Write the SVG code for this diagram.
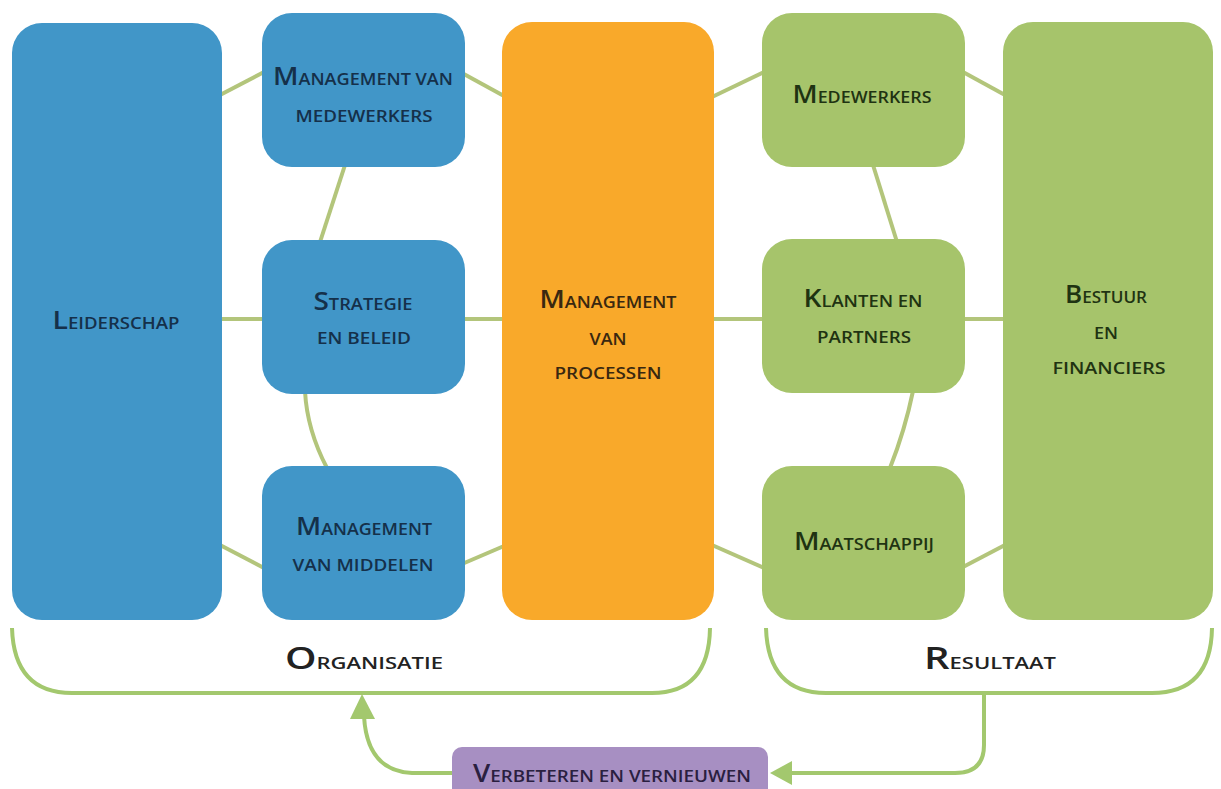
<svg xmlns="http://www.w3.org/2000/svg" width="1221" height="789" viewBox="0 0 1221 789">
<defs>
<style>
.t{font-family:"Open Sans","Liberation Sans",sans-serif;font-weight:600;font-size:17px;text-anchor:middle}
.c{font-size:26px}
.blue{fill:#4196c8}.orange{fill:#f9a92a}.green{fill:#a6c46b}.purple{fill:#a78fc2}
.tb{fill:#15304a}.to{fill:#3a2810}.tg{fill:#1f3312}.tp{fill:#2a2040}.tk{fill:#222}
.con{stroke:#b3c57b;stroke-width:4;fill:none}
.br{stroke:#a3c86e;stroke-width:4;fill:none}
</style>
<marker id="ah" viewBox="0 0 10 10" refX="9" refY="5" markerWidth="6" markerHeight="6" orient="auto" markerUnits="strokeWidth">
<path d="M0,0 L10,5 L0,10 z" fill="#a3c86e"/>
</marker>
</defs>
<rect width="1221" height="789" fill="#ffffff"/>
<g id="connectors">
<line class="con" x1="220" y1="95" x2="264" y2="72"/>
<line class="con" x1="220" y1="319" x2="264" y2="319"/>
<line class="con" x1="220" y1="545" x2="264" y2="568"/>
<line class="con" x1="462" y1="73" x2="504" y2="96"/>
<line class="con" x1="462" y1="319" x2="504" y2="319"/>
<line class="con" x1="462" y1="564" x2="504" y2="546"/>
<line class="con" x1="345" y1="165" x2="320" y2="242"/>
<path class="con" d="M305,391 Q307,430 327,468"/>
<line class="con" x1="712" y1="97" x2="764" y2="72"/>
<line class="con" x1="712" y1="319" x2="764" y2="319"/>
<line class="con" x1="712" y1="545" x2="764" y2="568"/>
<line class="con" x1="963" y1="72" x2="1005" y2="95"/>
<line class="con" x1="963" y1="319" x2="1005" y2="319"/>
<line class="con" x1="963" y1="567" x2="1005" y2="545"/>
<line class="con" x1="873" y1="165" x2="897" y2="242"/>
<path class="con" d="M913,391 Q905,430 890,468"/>
<path class="br" d="M12,628 Q14,693 72,693 L652,693 Q709,693 710,628"/>
<path class="br" d="M766,628 Q768,693 826,693 L1152,693 Q1211,693 1212,628"/>
<path class="br" d="M984,693 L984,745 Q984,773 955,773 L790,773"/>
<path d="M770,773 L792,761 L792,785 z" fill="#a3c86e"/>
<path class="br" d="M452,773 L412,773 Q367,771 364,716"/>
<path d="M362,694 L350,719 L375,719 z" fill="#a3c86e"/>
</g>
<g id="leiderschap">
<rect class="blue" x="12" y="23" width="210" height="597" rx="30"/>
<text class="t tb" x="116" y="329" textLength="127" lengthAdjust="spacingAndGlyphs"><tspan class="c">L</tspan>EIDERSCHAP</text>
</g>
<g id="mgmt-medewerkers">
<rect class="blue" x="262" y="13" width="203" height="154" rx="30"/>
<text class="t tb" x="363" y="85" textLength="180" lengthAdjust="spacingAndGlyphs"><tspan class="c">M</tspan>ANAGEMENT VAN</text>
<text class="t tb" x="364" y="122" textLength="137" lengthAdjust="spacingAndGlyphs">MEDEWERKERS</text>
</g>
<g id="strategie">
<rect class="blue" x="262" y="240" width="203" height="154" rx="30"/>
<text class="t tb" x="363" y="310" textLength="99" lengthAdjust="spacingAndGlyphs"><tspan class="c">S</tspan>TRATEGIE</text>
<text class="t tb" x="364" y="344" textLength="94" lengthAdjust="spacingAndGlyphs">EN BELEID</text>
</g>
<g id="mgmt-middelen">
<rect class="blue" x="262" y="466" width="203" height="154" rx="30"/>
<text class="t tb" x="364" y="535" textLength="136" lengthAdjust="spacingAndGlyphs"><tspan class="c">M</tspan>ANAGEMENT</text>
<text class="t tb" x="363" y="571" textLength="141" lengthAdjust="spacingAndGlyphs">VAN MIDDELEN</text>
</g>
<g id="mgmt-processen">
<rect class="orange" x="502" y="22" width="212" height="598" rx="30"/>
<text class="t to" x="608" y="308" textLength="137" lengthAdjust="spacingAndGlyphs"><tspan class="c">M</tspan>ANAGEMENT</text>
<text class="t to" x="608" y="345" textLength="37" lengthAdjust="spacingAndGlyphs">VAN</text>
<text class="t to" x="608" y="379" textLength="107" lengthAdjust="spacingAndGlyphs">PROCESSEN</text>
</g>
<g id="medewerkers">
<rect class="green" x="762" y="13" width="203" height="154" rx="30"/>
<text class="t tg" x="862" y="103" textLength="139" lengthAdjust="spacingAndGlyphs"><tspan class="c">M</tspan>EDEWERKERS</text>
</g>
<g id="klanten">
<rect class="green" x="762" y="239" width="203" height="154" rx="30"/>
<text class="t tg" x="863" y="307" textLength="119" lengthAdjust="spacingAndGlyphs"><tspan class="c">K</tspan>LANTEN EN</text>
<text class="t tg" x="864" y="343" textLength="94" lengthAdjust="spacingAndGlyphs">PARTNERS</text>
</g>
<g id="maatschappij">
<rect class="green" x="762" y="466" width="203" height="154" rx="30"/>
<text class="t tg" x="864" y="550" textLength="140" lengthAdjust="spacingAndGlyphs"><tspan class="c">M</tspan>AATSCHAPPIJ</text>
</g>
<g id="bestuur">
<rect class="green" x="1003" y="22" width="210" height="598" rx="30"/>
<text class="t tg" x="1106" y="303" textLength="82" lengthAdjust="spacingAndGlyphs"><tspan class="c">B</tspan>ESTUUR</text>
<text class="t tg" x="1106" y="339" textLength="24" lengthAdjust="spacingAndGlyphs">EN</text>
<text class="t tg" x="1109" y="374" textLength="113" lengthAdjust="spacingAndGlyphs">FINANCIERS</text>
</g>
<g id="organisatie">
<text class="t tk" x="364" y="669" font-weight="400" font-size="22" textLength="158" lengthAdjust="spacingAndGlyphs"><tspan font-size="31">O</tspan>RGANISATIE</text>
</g>
<g id="resultaat">
<text class="t tk" x="990" y="669" font-weight="400" font-size="22" textLength="132" lengthAdjust="spacingAndGlyphs"><tspan font-size="31">R</tspan>ESULTAAT</text>
</g>
<g id="verbeteren">
<rect class="purple" x="452" y="747" width="316" height="60" rx="10"/>
<text class="t tp" x="612" y="782" font-size="18" textLength="278" lengthAdjust="spacingAndGlyphs"><tspan font-size="25">V</tspan>ERBETEREN EN VERNIEUWEN</text>
</g>
</svg>
